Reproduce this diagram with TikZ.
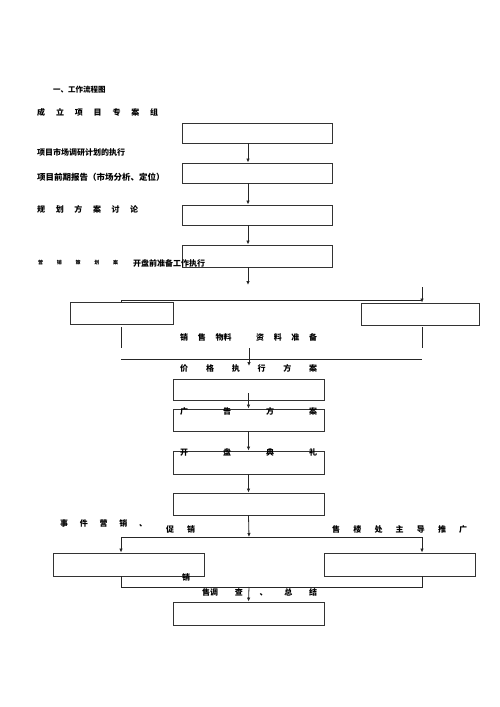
\documentclass[tikz,border=0pt]{standalone}
\usepackage{fontspec}
\newfontfamily\cjk{Noto Sans CJK SC}
\usetikzlibrary{arrows.meta}

\tikzset{
	box/.style={draw=black!80, line width=0.9pt, minimum width=151pt, minimum height=22pt, inner sep=0pt},
	wire/.style={draw=black!85, line width=0.8pt},
	arr/.style={wire, -{Latex[length=4pt,width=3.5pt]}},
	lbl/.style={anchor=west, inner sep=0pt, font=\cjk\bfseries\fontsize{8}{9}\selectfont},
}

\begin{document}
\begin{tikzpicture}[x=1pt,y=-1pt]
	
	\useasboundingbox[fill=white] (0,0) rectangle (500,707);
	
	% boxes of the flow
	\node[box, minimum width=150pt, minimum height=20pt] (b1) at (257,133) {};
	\node[box, minimum width=150pt, minimum height=20pt] (b2) at (257,173) {};
	\node[box, minimum width=150pt, minimum height=20pt] (b3) at (257,215) {};
	\node[box, minimum width=150pt] (b4) at (257,256) {};
	
	\node[box, minimum width=103pt] (prepL) at (121.5,313) {};
	\node[box, minimum width=118pt] (prepR) at (420,314) {};
	
	\node[box, minimum height=21pt] (b5) at (248.5,389.5) {};
	\node[box] (b6) at (248.5,420) {};
	\node[box, minimum height=23pt] (b7) at (248.5,462.5) {};
	\node[box] (b8) at (248.5,504) {};
	
	\node[box, minimum height=23pt] (evL) at (128.5,564.5) {};
	\node[box, minimum height=23pt] (evR) at (399.5,564.5) {};
	
	\node[box, minimum height=23pt] (b9) at (248.5,613.5) {};
	
	% helper points
	\coordinate (spine) at (248,0);
	\coordinate (split1) at (248,285);
	\coordinate (stubR) at (422,287);
	\coordinate (barL) at (121,300);
	\coordinate (barR) at (422,300);
	\coordinate (legL) at (121,327);
	\coordinate (legR) at (422,327);
	\coordinate (footL) at (121,348);
	\coordinate (footR) at (422,348);
	\coordinate (mid1) at (249,348);
	\coordinate (mid2) at (249,366);
	\coordinate (railL) at (121,359);
	\coordinate (railR) at (422,359);
	\coordinate (split2) at (249,537);
	\coordinate (forkL) at (121,537);
	\coordinate (forkR) at (422,537);
	\coordinate (joinL) at (121,587);
	\coordinate (joinR) at (422,587);
	\coordinate (join) at (249,587);
	
	% connectors
	\draw[arr] (b1.south -| spine) -- (b2.north -| spine);
	\draw[arr] (b2.south -| spine) -- (b3.north -| spine);
	\draw[arr] (b3.south -| spine) -- (b4.north -| spine);
	\draw[arr] (b4.south -| spine) -- (split1);
	
	\draw[wire] (barL) -- (barR);
	\draw[wire] (barL) -- (prepL.north -| barL);
	\draw[arr] (stubR) -- (prepR.north -| stubR);
	
	\draw[wire] (legL) -- (footL);
	\draw[wire] (legR) -- (footR);
	\draw[wire] (railL) -- (railR);
	\draw[arr] (mid1) -- (mid2);
	
	\draw[arr] ([yshift=7pt]b5.south) -- (b6.north);
	\draw[arr] (b6.south) -- (b7.north);
	\draw[arr] (b7.south) -- (b8.north);
	\draw[arr] (b8.south) -- (split2);
	
	\draw[wire] (forkL) -- (forkR);
	\draw[arr] (forkL) -- (evL.north -| forkL);
	\draw[arr] (forkR) -- (evR.north -| forkR);
	
	\draw[wire] (evL.south -| joinL) -- (joinL) -- (joinR) -- (evR.south -| joinR);
	\draw[arr] (join) -- (b9.north);
	
	% texts
	\node[lbl, font=\cjk\bfseries\fontsize{7.5}{9}\selectfont] (title) at (53,90) {一、工作流程图};
	\node[lbl] (t1) at (37,112) {\makebox[121pt][s]{成 立 项 目 专 案 组}};
	\node[lbl] (t2) at (37,152) {项目市场调研计划的执行};
	\node[lbl, font=\cjk\bfseries\fontsize{8.5}{9}\selectfont] (t3) at (37,177) {项目前期报告（市场分析、定位）};
	\node[lbl] (t4) at (37,209) {\makebox[101pt][s]{规 划 方 案 讨 论}};
	\node[lbl, font=\cjk\bfseries\fontsize{5}{6}\selectfont] (t5) at (38,263) {\makebox[80pt][s]{营 销 策 划 案}};
	\node[lbl] (t6) at (133,263) {开盘前准备工作执行};
	
	\node[lbl] (t7) at (180,337) {\makebox[137pt][s]{销 售 物料 \hspace{5pt} 资 料 准 备}};
	\node[lbl] (t8) at (180,368) {\makebox[137pt][s]{价 格 执 行 方 案}};
	\node[lbl] (t9) at (180,411) {\makebox[137pt][s]{广 告 方 案}};
	\node[lbl] (t10) at (180,452) {\makebox[137pt][s]{开 盘 典 礼}};
	
	\node[lbl] (t11) at (60,523) {\makebox[87pt][s]{事 件 营 销 、}};
	\node[lbl] (t12) at (166,529) {\makebox[29pt][s]{促 销}};
	\node[lbl] (t13) at (332,529) {\makebox[135pt][s]{售 楼 处 主 导 推 广}};
	
	\node[lbl] (t14) at (182,577) {销};
	\node[lbl] (t15) at (202,592) {\makebox[115pt][s]{售调 查 、 总 结}};
	
\end{tikzpicture}
\end{document}
